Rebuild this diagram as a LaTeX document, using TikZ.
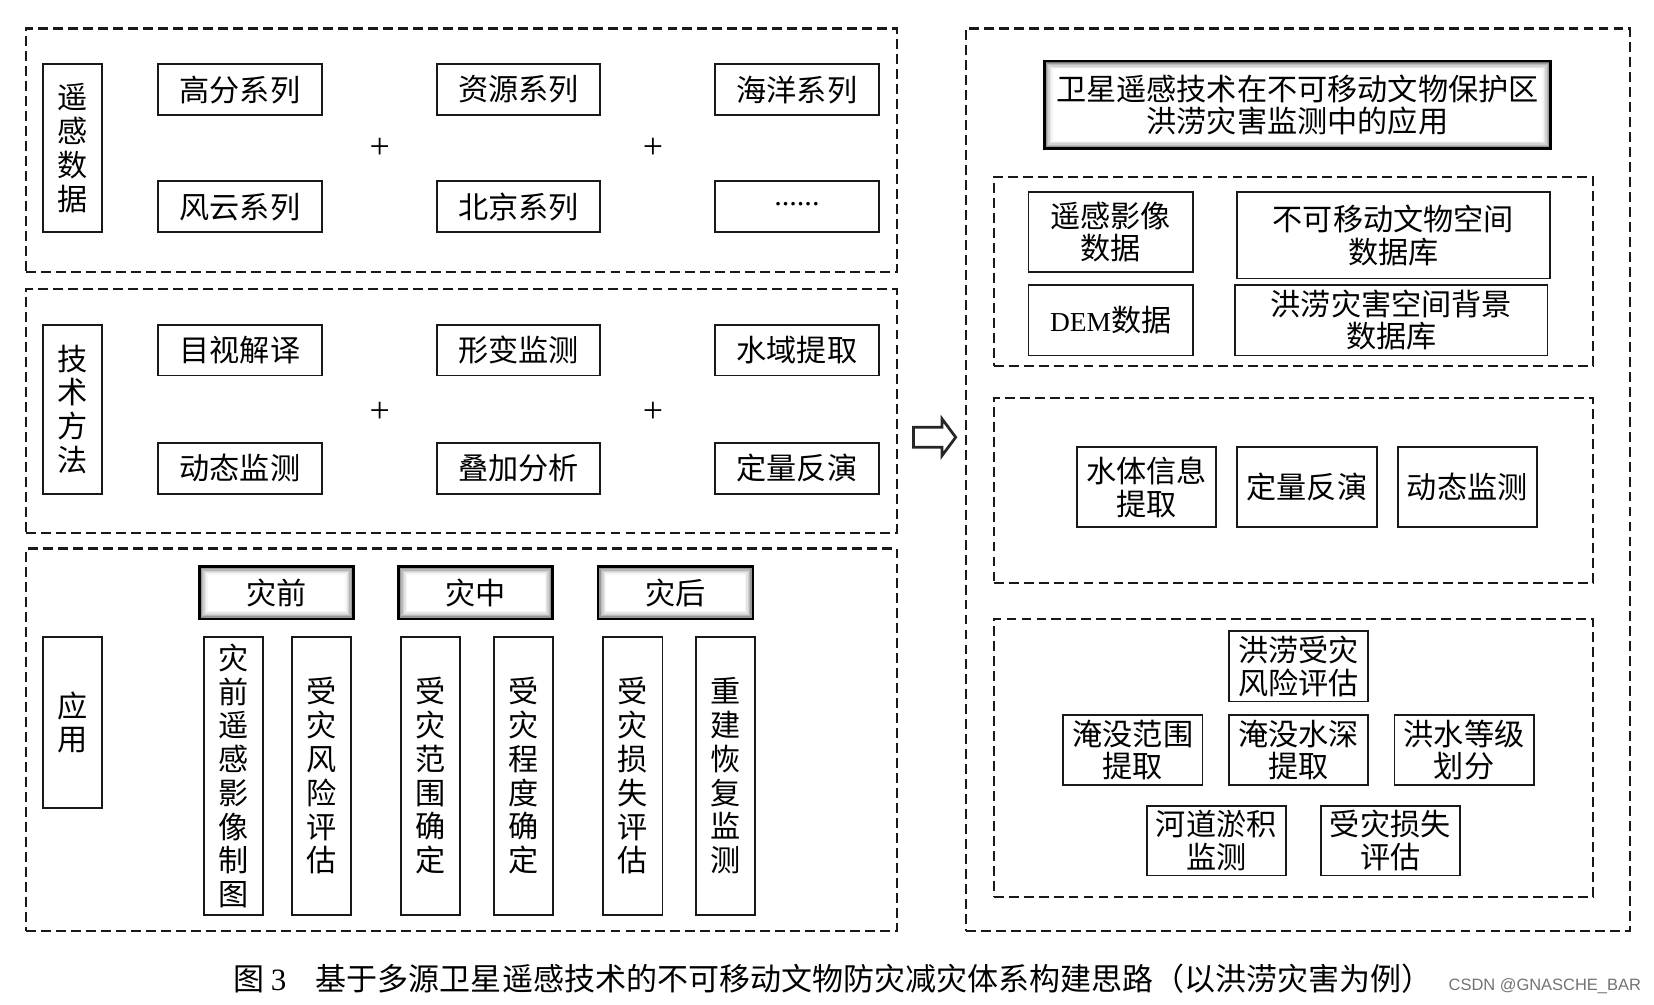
\documentclass[tikz,border=0pt]{standalone}
\usepackage{fontspec}
\setmainfont{Noto Sans CJK SC}
\newfontfamily\lat{Liberation Serif}
\newfontfamily\wmfont{Liberation Sans}
\newcommand\mybox[7][box]{\node[#1,minimum width={(#5-#3)*0.5pt},minimum height={(#6-#4)*0.5pt}] (#2) at ({(#3+#5)/2},{(#4+#6)/2}) {#7};}
\begin{document}
\begin{tikzpicture}[x=0.5pt,y=-0.5pt,
  box/.style={draw=black!90, line width=0.9pt, inner sep=0pt, align=center, font=\fontsize{14.3}{15.5}\selectfont},
  vbox/.style={box, font=\fontsize{14.3}{16}\selectfont},
  grp/.style={draw=black!90, line width=1pt, dash pattern=on 4.7pt off 2.4pt, inner sep=0pt},
  plus/.style={inner sep=0pt, font=\lat\fontsize{17}{17}\selectfont},
  bevel/.style={draw=black, line width=1.2pt, inner sep=0pt, align=center, fill=white,
    font=\fontsize{14.3}{15}\selectfont,
    path picture={
      \foreach \k/\c in {0/55,1/40,2/28,3/18,4/10,5/4}{
        \fill[black!\c] ([xshift=\k*0.65pt,yshift=-\k*0.65pt]path picture bounding box.north west) rectangle ([xshift=-\k*0.65pt,yshift=\k*0.65pt]path picture bounding box.south east);
      }
      \fill[white] ([xshift=3.9pt,yshift=-3.9pt]path picture bounding box.north west) rectangle ([xshift=-3.9pt,yshift=3.9pt]path picture bounding box.south east);
    }}
]
\useasboundingbox (0,0) rectangle (1568,952);

% ---------- left: remote sensing data ----------
\mybox[grp]{g1}{25}{27}{850}{258}{}
\mybox[vbox]{rs}{41}{61}{97}{220}{遥\\感\\数\\据}
\mybox{gf}{150}{61}{305}{109}{高分系列}
\mybox{zy}{414}{61}{569}{109}{资源系列}
\mybox{hy}{678}{61}{833}{109}{海洋系列}
\mybox{fy}{150}{172}{305}{220}{风云系列}
\mybox{bj}{414}{172}{569}{220}{北京系列}
\mybox{etc}{678}{172}{833}{220}{\raisebox{3pt}{\lat ......}}
\node[plus] (p1) at (360,141) {+};
\node[plus] (p2) at (619,141) {+};

% ---------- left: technical methods ----------
\mybox[grp]{g2}{25}{274}{850}{505}{}
\mybox[vbox]{js}{41}{308}{97}{468}{技\\术\\方\\法}
\mybox{mz}{150}{308}{305}{356}{目视解译}
\mybox{xb}{414}{308}{569}{356}{形变监测}
\mybox{sy}{678}{308}{833}{356}{水域提取}
\mybox{dt}{150}{420}{305}{468}{动态监测}
\mybox{dj}{414}{420}{569}{468}{叠加分析}
\mybox{dl}{678}{420}{833}{468}{定量反演}
\node[plus] (p3) at (360,391) {+};
\node[plus] (p4) at (619,391) {+};

% ---------- left: applications ----------
\mybox[grp]{g3}{25}{520}{850}{883}{}
\mybox[vbox]{yy}{41}{604}{97}{766}{应\\用}
\mybox[bevel]{zq}{189}{537}{335}{587}{灾前}
\mybox[bevel]{zz}{378}{537}{524}{587}{灾中}
\mybox[bevel]{zh}{567}{537}{714}{587}{灾后}
\mybox[vbox]{v1}{193}{604}{249}{867}{灾\\前\\遥\\感\\影\\像\\制\\图}
\mybox[vbox]{v2}{277}{604}{333}{867}{受\\灾\\风\\险\\评\\估}
\mybox[vbox]{v3}{380}{604}{436}{867}{受\\灾\\范\\围\\确\\定}
\mybox[vbox]{v4}{468}{604}{524}{867}{受\\灾\\程\\度\\确\\定}
\mybox[vbox]{v5}{572}{604}{628}{867}{受\\灾\\损\\失\\评\\估}
\mybox[vbox]{v6}{660}{604}{716}{867}{重\\建\\恢\\复\\监\\测}

% ---------- block arrow ----------
\draw[draw=black!85, line width=1.3pt, fill=white, line join=miter]
  (866,405) -- (893,405) -- (893,397) -- (906,414.5) -- (893,432) -- (893,424) -- (866,424) -- cycle;

% ---------- right column ----------
\mybox[grp]{gr}{916}{27}{1545}{883}{}
\mybox[bevel]{title}{990}{58}{1470}{141}{卫星遥感技术在不可移动文物保护区\\洪涝灾害监测中的应用}

\mybox[grp]{ga}{942}{168}{1510}{347}{}
\mybox{a1}{975}{182}{1131}{258}{遥感影像\\数据}
\mybox{a2}{1173}{182}{1469}{264}{不可移动文物空间\\数据库}
\mybox{a3}{975}{270}{1131}{337}{{\lat\fontsize{13}{14}\selectfont DEM}数据}
\mybox{a4}{1171}{270}{1467}{337}{洪涝灾害空间背景\\数据库}

\mybox[grp]{gb}{942}{377}{1510}{553}{}
\mybox{b1}{1021}{424}{1153}{500}{水体信息\\提取}
\mybox{b2}{1173}{424}{1305}{500}{定量反演}
\mybox{b3}{1325}{424}{1457}{500}{动态监测}

\mybox[grp]{gc}{942}{587}{1510}{850}{}
\mybox{c1}{1165}{598}{1297}{665}{洪涝受灾\\风险评估}
\mybox{c2}{1008}{678}{1140}{744}{淹没范围\\提取}
\mybox{c3}{1165}{678}{1297}{744}{淹没水深\\提取}
\mybox{c4}{1322}{678}{1454}{744}{洪水等级\\划分}
\mybox{c5}{1087}{764}{1219}{830}{河道淤积\\监测}
\mybox{c6}{1252}{764}{1384}{830}{受灾损失\\评估}

% ---------- caption and watermark ----------
\node[anchor=west, inner sep=0pt, font=\fontsize{14.7}{16}\selectfont] (cap) at (221,928)
  {图\hspace{3pt}{\lat 3}\hspace{14pt}基于多源卫星遥感技术的不可移动文物防灾减灾体系构建思路（以洪涝灾害为例）};
\node[anchor=east, inner sep=0pt, text=black!55, font=\wmfont\fontsize{7.8}{8}\selectfont] (wm) at (1556,935) {CSDN @GNASCHE\_BAR};
\end{tikzpicture}
\end{document}
